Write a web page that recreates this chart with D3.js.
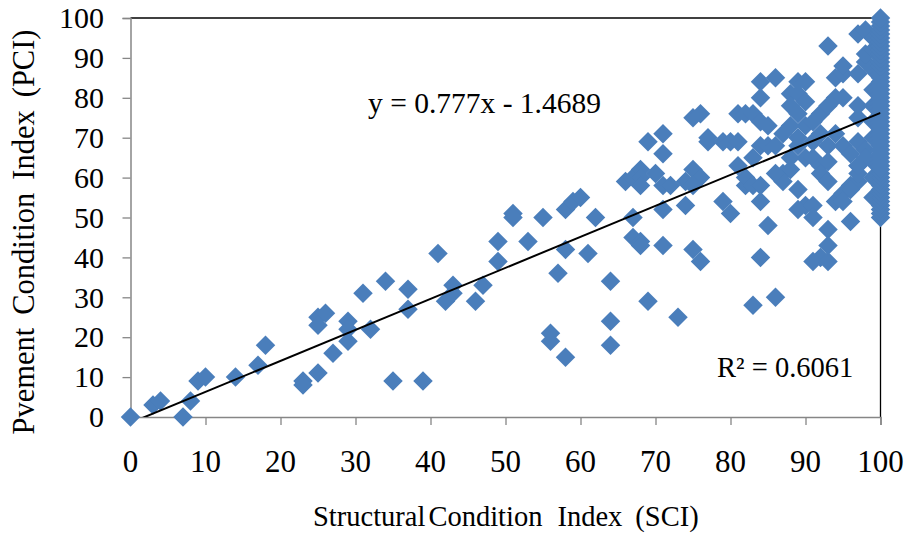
<!DOCTYPE html>
<html>
<head>
<meta charset="utf-8">
<script src="https://cdn.jsdelivr.net/npm/d3@7"></script>
<style>
  html, body { margin: 0; padding: 0; background: #fff; }
  svg { display: block; }
  text { font-family: "Liberation Serif", "Times New Roman", serif; fill: #000; }
</style>
</head>
<body>
<svg id="chart" width="907" height="536"></svg>
<script>
// Structural Condition Index (x) and Pavement Condition Index (y) per section
const sci = [
  0, 3, 4, 7, 8, 9, 10, 14, 17, 18, 23, 23, 25, 25, 26, 25, 27, 29, 29, 29,
  31, 32, 34, 35, 37, 37, 39, 41, 42, 43, 43, 46, 47, 49, 49, 51, 51, 53, 55, 56,
  56, 57, 58, 59, 60, 58, 58, 61, 62, 64, 64, 64, 66, 67, 68, 68, 68, 67, 67, 68,
  68, 69, 71, 71, 69, 70, 71, 72, 71, 71, 73, 74, 74, 75, 76, 75, 75, 76, 75, 76,
  77, 77, 79, 80, 81, 79, 80, 81, 82, 83, 81, 82, 83, 84, 86, 84, 84, 84, 93, 97,
  98, 89, 90, 94, 95, 94, 95, 88, 89, 88, 90, 89, 90, 91, 92, 93, 97, 97, 84, 85,
  87, 88, 89, 91, 92, 93, 94, 95, 97, 83, 84, 85, 86, 87, 88, 89, 90, 88, 91, 92,
  93, 96, 97, 82, 83, 84, 87, 86, 89, 90, 89, 91, 91, 92, 93, 94, 95, 96, 97, 97,
  96, 85, 93, 93, 92, 91, 93, 86, 98, 97, 98, 95, 98, 98, 97, 95, 96,
  99, 99, 99, 99, 99, 99, 99, 99, 99, 99,
  100, 100, 100, 100, 100, 100, 100, 100, 100, 100, 100, 100, 100, 100, 100, 100, 100,
  100, 100, 100, 100, 100, 100, 100, 100, 100, 100, 100, 100, 100, 100, 100, 100, 100,
  100, 100, 100, 100, 100, 100, 100, 100, 100, 100, 100, 100, 100, 100, 100, 100, 100
];
const pci = [
  0, 3, 4, 0, 4, 9, 10, 10, 13, 18, 9, 8, 11, 25, 26, 23, 16, 24, 22, 19,
  31, 22, 34, 9, 32, 27, 9, 41, 29, 33, 31, 29, 33, 44, 39, 51, 50, 44, 50, 21,
  19, 36, 52, 54, 55, 42, 15, 41, 50, 34, 24, 18, 59, 60, 62, 60, 58, 50, 45, 44,
  43, 69, 71, 66, 29, 61, 58, 58, 52, 43, 25, 53, 59, 62, 60, 58, 75, 76, 42, 39,
  70, 69, 69, 69, 69, 54, 51, 76, 76, 76, 63, 58, 28, 84, 85, 80, 54, 40, 93, 96,
  97, 84, 84, 85, 86, 80, 80, 81, 81, 78, 79, 76, 73, 74, 76, 78, 78, 75, 74, 73,
  71, 73, 70, 69, 71, 68, 71, 68, 69, 65, 68, 68, 68, 61, 62, 68, 65, 65, 65, 63,
  64, 66, 63, 60, 58, 58, 59, 61, 57, 53, 52, 53, 50, 61, 59, 54, 56, 58, 59, 61,
  49, 48, 47, 43, 40, 39, 39, 30, 89, 86, 91, 88, 67, 65, 63, 54, 57,
  55, 60, 64, 70, 74, 78, 82, 87, 92, 95,
  50, 51, 52, 53, 54, 55, 56, 57, 58, 59, 60, 61, 62, 63, 64, 65, 66,
  67, 68, 69, 70, 71, 72, 73, 74, 75, 76, 77, 78, 79, 80, 81, 82, 83,
  84, 85, 86, 87, 88, 89, 90, 91, 92, 93, 94, 95, 96, 97, 98, 99, 100
];

// Axis ticks
const xTicks = [0, 10, 20, 30, 40, 50, 60, 70, 80, 90, 100];
const yTicks = [0, 10, 20, 30, 40, 50, 60, 70, 80, 90, 100];

// Axis titles
const xTitleWords = ["Structural", "Condition", "Index", "(SCI)"];
const yTitleWords = ["Pvement", "Condition", "Index", "(PCI)"];

// Linear trendline coefficients and fit
const slope = 0.777;
const intercept = -1.4689;
const rSquared = 0.6061;

const svg = d3.select("#chart");
const plotLeft = 130.5, plotRight = 880.5, plotTop = 18, plotBottom = 417;

const x = d3.scaleLinear().domain([0, 100]).range([plotLeft, plotRight]);
const y = d3.scaleLinear().domain([0, 100]).range([plotBottom, plotTop]);

const axisGray = "#868686";

// Plot-area frame: top and right edges
svg.append("line").attr("x1", plotLeft).attr("x2", plotRight).attr("y1", plotTop).attr("y2", plotTop)
  .attr("stroke", "#000").attr("stroke-width", 1.3);
svg.append("line").attr("x1", plotRight).attr("x2", plotRight).attr("y1", plotTop).attr("y2", plotBottom)
  .attr("stroke", "#000").attr("stroke-width", 1.3);

// Y axis
const yAxis = svg.append("g").attr("transform", `translate(${plotLeft},0)`)
  .call(d3.axisLeft(y).tickValues(yTicks).tickSize(8).tickFormat(""));
yAxis.select(".domain").attr("stroke", axisGray).attr("stroke-width", 1.5);
yAxis.selectAll(".tick line").attr("stroke", axisGray).attr("stroke-width", 1.3);

svg.append("g").selectAll("text").data(yTicks).join("text")
  .attr("x", 104).attr("y", d => y(d))
  .attr("dy", "0.34em")
  .attr("text-anchor", "end")
  .attr("font-size", 30)
  .text(d => d);

// X axis
const xAxis = svg.append("g").attr("transform", `translate(0,${plotBottom})`)
  .call(d3.axisBottom(x).tickValues(xTicks).tickSize(8).tickFormat(""));
xAxis.select(".domain").attr("stroke", axisGray).attr("stroke-width", 1.5);
xAxis.selectAll(".tick line").attr("stroke", axisGray).attr("stroke-width", 1.3);

svg.append("g").selectAll("text").data(xTicks).join("text")
  .attr("x", d => x(d)).attr("y", 472)
  .attr("text-anchor", "middle")
  .attr("font-size", 31)
  .text(d => d);

// X axis title (word gaps as set in the source chart)
const xTitle = svg.append("text")
  .attr("x", 313).attr("y", 526)
  .attr("font-size", 28.5);
const xGaps = [0, 3, 15, 13];
xTitleWords.forEach((w, i) => xTitle.append("tspan").attr("dx", xGaps[i]).text(w));

// Y axis title
const yTitle = svg.append("text")
  .attr("transform", "translate(34,232) rotate(-90)")
  .attr("text-anchor", "middle")
  .attr("font-size", 30.5);
yTitleWords.forEach((w, i) => yTitle.append("tspan").attr("dx", i ? 13 : 0).text(w));

// Data markers (diamonds)
const diamond = d3.symbol().type(d3.symbolSquare).size(190)();
svg.append("g").selectAll("path").data(d3.range(sci.length)).join("path")
  .attr("d", diamond)
  .attr("transform", i => `translate(${x(sci[i])},${y(pci[i])}) rotate(45)`)
  .attr("fill", "#4a7ebb");

// Trendline, clipped to the plot area
svg.append("clipPath").attr("id", "plotClip")
  .append("rect").attr("x", plotLeft).attr("y", plotTop)
  .attr("width", plotRight - plotLeft).attr("height", plotBottom - plotTop);

const fitLine = d3.line().x(d => x(d)).y(d => y(slope * d + intercept));
svg.append("path")
  .attr("clip-path", "url(#plotClip)")
  .attr("d", fitLine([0, 100]))
  .attr("fill", "none")
  .attr("stroke", "#000")
  .attr("stroke-width", 2);

// Trendline labels
svg.append("text")
  .attr("x", 368).attr("y", 113)
  .attr("font-size", 29.5)
  .text(`y = ${slope}x - ${Math.abs(intercept)}`);

svg.append("text")
  .attr("x", 717).attr("y", 377)
  .attr("font-size", 28.5)
  .text(`R² = ${rSquared}`);
</script>
</body>
</html>
